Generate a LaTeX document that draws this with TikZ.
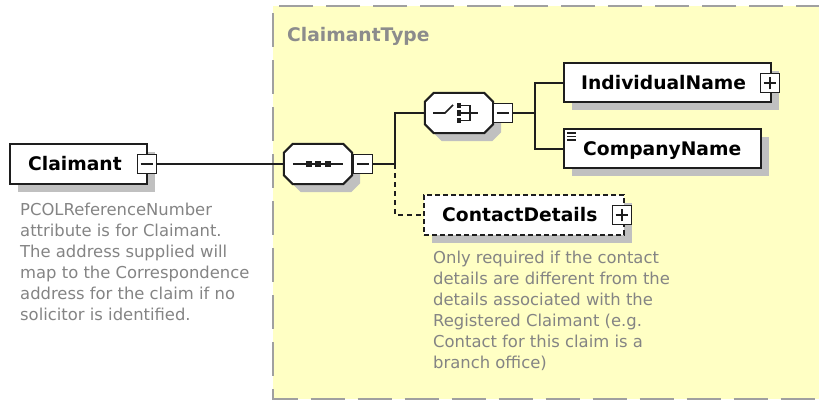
\documentclass[tikz,border=0pt]{standalone}
\usepackage{fontspec}
\setmainfont{DejaVu Sans}
\usetikzlibrary{shadows}
\definecolor{typefill}{HTML}{FFFFC4}
\definecolor{typeline}{HTML}{A0A0A0}
\definecolor{shadowc}{HTML}{C0C0C0}
\definecolor{notegray}{HTML}{848484}
\definecolor{typegray}{HTML}{8C8C8C}
\definecolor{ink}{HTML}{1E1E1E}
\begin{document}
\begin{tikzpicture}[x=1pt,y=-1pt,
  conn/.style={draw=ink,line width=2pt},
  optconn/.style={conn,dash pattern=on 5pt off 4pt},
  elem/.style={rectangle,draw=ink,fill=white,line width=2pt,inner sep=0pt,
    minimum height=40pt,
    general shadow={fill=shadowc,shadow xshift=8pt,shadow yshift=-8pt}},
  optelem/.style={elem,dash pattern=on 5pt off 3pt},
  modelnode/.style={rectangle,inner sep=0pt,minimum width=68pt,minimum height=40pt},
  expbox/.style={rectangle,draw=ink,fill=white,line width=1.8pt,minimum size=19pt,inner sep=0pt},
  sign/.style={draw=ink,line width=1.7pt},
  lbl/.style={anchor=base west,inner sep=0pt,font=\fontsize{18.7}{22}\selectfont\bfseries},
  note/.style={anchor=north west,inner sep=0pt,align=left,text=notegray,
    font=\fontsize{16.4}{21}\selectfont},
  octpath/.style n args={3}{insert path={
    ([shift={(9+#2,#3)}]#1.north west) -- ([shift={(-9+#2,#3)}]#1.north east)
    -- ([shift={(#2,9+#3)}]#1.north east) -- ([shift={(#2,-9+#3)}]#1.south east)
    -- ([shift={(-9+#2,#3)}]#1.south east) -- ([shift={(9+#2,#3)}]#1.south west)
    -- ([shift={(#2,-9+#3)}]#1.south west) -- ([shift={(#2,9+#3)}]#1.north west) -- cycle}},
]
\useasboundingbox (0,0) rectangle (819,400);

% complex type area
\fill[typefill] (273,6) rectangle (830,398.5);
\draw[typeline,line width=2pt,dash pattern=on 34pt off 13pt]
  (830,6) -- (273,6) -- (273,398.5) -- (830,398.5);
\node[anchor=base west,inner sep=0pt,text=typegray,
  font=\fontsize{18.7}{22}\selectfont\bfseries] (typename) at (287,41) {ClaimantType};

% root element
\node[elem,minimum width=137pt] (claimant) at (78.5,164) {};
\node[lbl] (claimantlbl) at (28,170.5) {Claimant};
\node[expbox] (cm) at (147,164) {};
\draw[sign] ([xshift=4pt]cm.west) -- ([xshift=-4pt]cm.east);
\node[note] (claimantnote) at (20,202) {\rule{0pt}{13pt}PCOLReferenceNumber\\
attribute is for Claimant.\\
The address supplied will\\
map to the Correspondence\\
address for the claim if no\\
solicitor is identified.};

% sequence compositor
\node[modelnode] (seq) at (318,164) {};
\fill[shadowc,octpath={seq}{8}{8}];
\draw[ink,fill=white,line width=2pt,octpath={seq}{0}{0}];
\draw[sign] ([xshift=9pt]seq.west) -- ([xshift=-9pt]seq.east);
\foreach \dx in {-9.5,0,9.5}
  \fill[ink] ([shift={(\dx-3,-2.7)}]seq.center) rectangle ([shift={(\dx+3,2.7)}]seq.center);
\node[expbox] (sm) at (363,164) {};
\draw[sign] ([xshift=4pt]sm.west) -- ([xshift=-4pt]sm.east);

% choice compositor
\node[modelnode] (choice) at (459,113) {};
\fill[shadowc,octpath={choice}{8}{8}];
\draw[ink,fill=white,line width=2pt,octpath={choice}{0}{0}];
\draw[sign] ([shift={(-26,0)}]choice.center) -- ([shift={(-14,0)}]choice.center)
  -- ([shift={(-6,-8)}]choice.center);
\foreach \dy in {-7.5,0,7.5}
  \fill[ink] ([shift={(-2.4,\dy-2.6)}]choice.center) rectangle ([shift={(2.4,\dy+2.6)}]choice.center);
\draw[sign] ([shift={(2,-7.5)}]choice.center) -- ([shift={(11,-7.5)}]choice.center)
  -- ([shift={(11,7.5)}]choice.center) -- ([shift={(2,7.5)}]choice.center);
\draw[sign] ([shift={(2,0)}]choice.center) -- ([shift={(19,0)}]choice.center);
\node[expbox] (chm) at (503,113) {};
\draw[sign] ([xshift=4pt]chm.west) -- ([xshift=-4pt]chm.east);

% child elements
\node[elem,minimum width=207pt,minimum height=39pt] (ind) at (667.5,82.5) {};
\node[lbl] (indlbl) at (581,89) {IndividualName};
\node[expbox] (indp) at (770,83) {};
\draw[sign] ([xshift=4pt]indp.west) -- ([xshift=-4pt]indp.east);
\draw[sign] ([yshift=4pt]indp.south) -- ([yshift=-4pt]indp.north);

\node[elem,minimum width=197pt,minimum height=39pt] (comp) at (662.5,148.5) {};
\node[lbl] (complbl) at (583,155) {CompanyName};
\foreach \dy in {5,8.5,12}
  \draw[ink,line width=1.1pt] ([shift={(4,\dy)}]comp.north west) -- ([shift={(13,\dy)}]comp.north west);

\node[optelem,minimum width=200pt] (cont) at (524,215) {};
\node[lbl] (contlbl) at (442,221.5) {ContactDetails};
\node[expbox] (contp) at (622,215) {};
\draw[sign] ([xshift=4pt]contp.west) -- ([xshift=-4pt]contp.east);
\draw[sign] ([yshift=4pt]contp.south) -- ([yshift=-4pt]contp.north);
\node[note] (contnote) at (433,250) {\rule{0pt}{13pt}Only required if the contact\\
details are different from the\\
details associated with the\\
Registered Claimant (e.g.\\
Contact for this claim is a\\
branch office)};

% connectors
\coordinate (j1) at (395,164);
\coordinate (j2) at (535,113);
\draw[conn] (cm.east) -- (seq.west);
\draw[conn] (sm.east) -- (j1) |- (choice.west);
\draw[optconn] (j1) |- (cont.west);
\draw[conn] (chm.east) -- (j2) |- (ind.west);
\draw[conn] (j2) |- (comp.west);
\end{tikzpicture}
\end{document}
